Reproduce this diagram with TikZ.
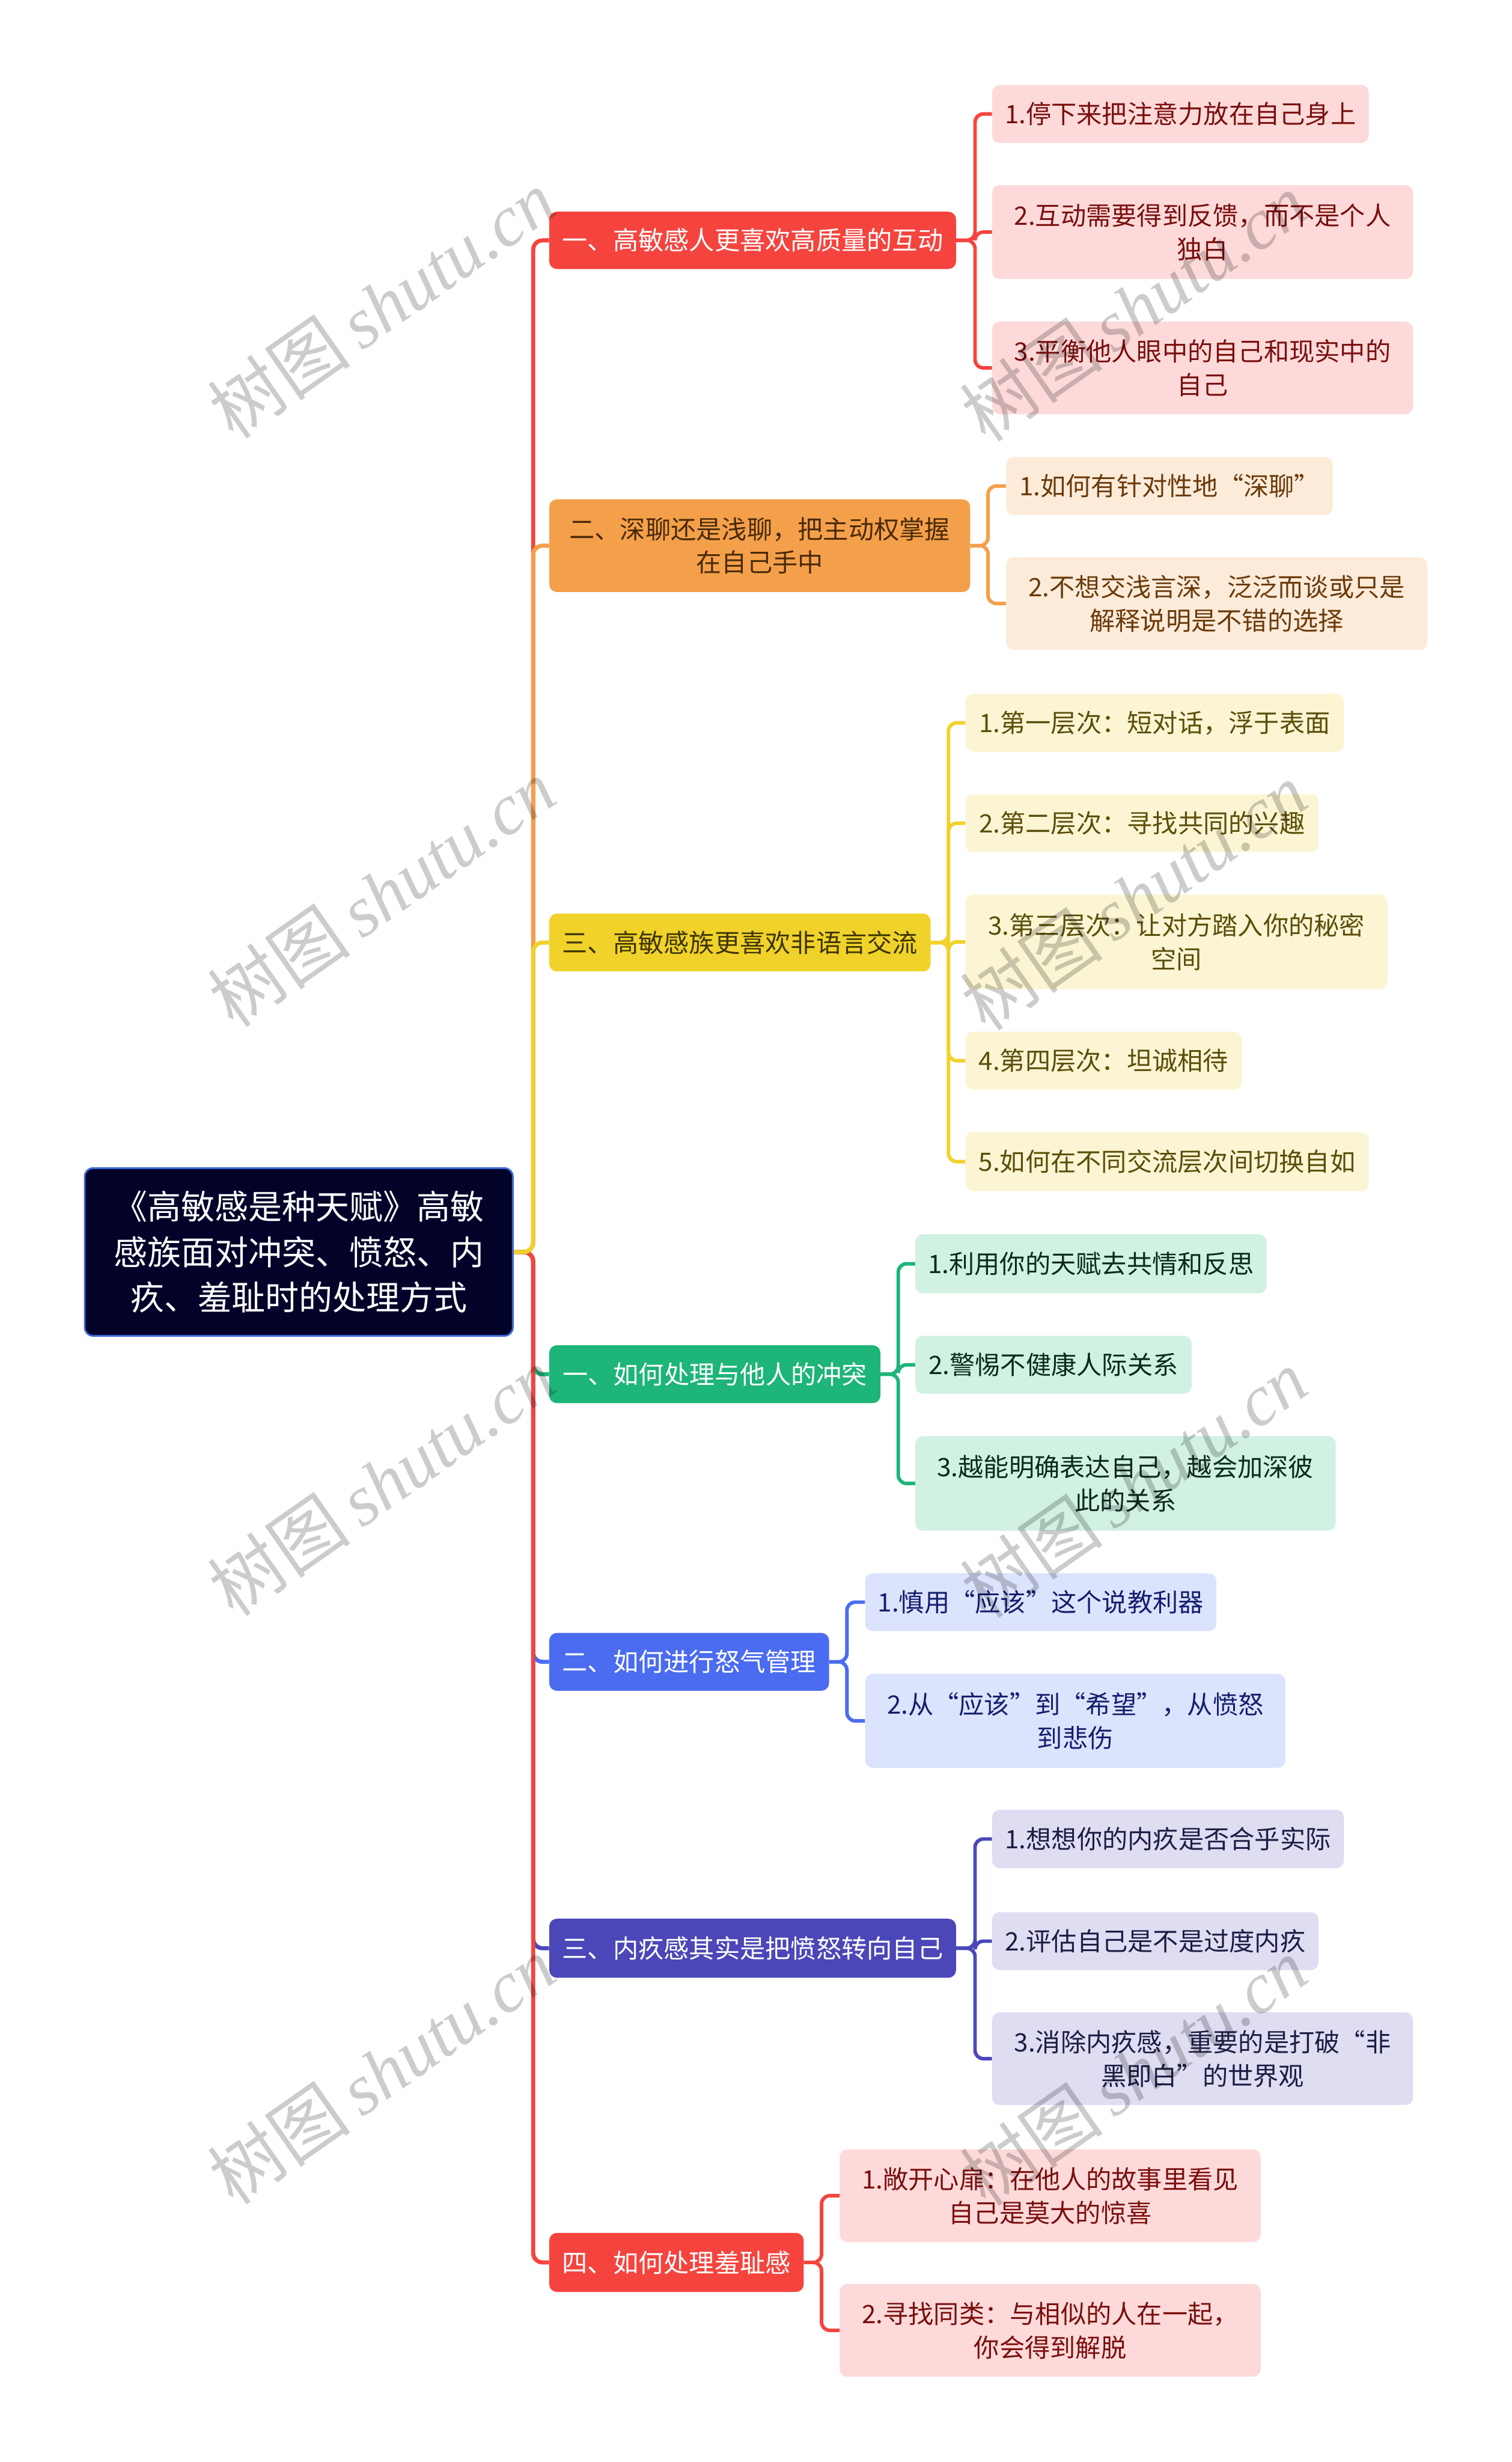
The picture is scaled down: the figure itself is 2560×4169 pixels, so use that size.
\documentclass[tikz,border=0pt]{standalone}
\usepackage{fontspec}
\setmainfont{Noto Sans CJK SC}
\newfontfamily\wmlatin{Liberation Serif}
\pgfdeclarelayer{bg}
\pgfsetlayers{bg,main}
\definecolor{rootfill}{HTML}{03032A}
\definecolor{rootline}{HTML}{3C6ADA}
\definecolor{cred}{HTML}{F5443E}
\definecolor{corange}{HTML}{F4A04B}
\definecolor{cyellow}{HTML}{F0D22B}
\definecolor{cgreen}{HTML}{1DB578}
\definecolor{cblue}{HTML}{4B6CF0}
\definecolor{cindigo}{HTML}{4B47B9}
\definecolor{fpink}{HTML}{FDDAD9}
\definecolor{fpeach}{HTML}{FDEBDA}
\definecolor{fyellow}{HTML}{FBF5D3}
\definecolor{fmint}{HTML}{D1F1E3}
\definecolor{fblue}{HTML}{DCE3FC}
\definecolor{flav}{HTML}{DEDDF2}
\definecolor{tred}{HTML}{7A0E0E}
\definecolor{tbrown}{HTML}{6A3A0A}
\definecolor{tolive}{HTML}{5B4E0A}
\definecolor{tgreen}{HTML}{0B2A1E}
\definecolor{tnavy}{HTML}{141E6E}
\definecolor{tind}{HTML}{1E1C44}
\definecolor{tbrbrown}{HTML}{4A2A08}
\definecolor{tbrolive}{HTML}{3D3400}
\tikzset{
  conn/.style={line width=7pt, rounded corners=16pt},
  subconn/.style={line width=6pt, rounded corners=14pt},
  rootbox/.style={draw=rootline, line width=3pt, fill=rootfill, text=white, rounded corners=14pt, inner sep=0pt, align=center, font=\fontsize{57}{77}\selectfont},
  brbox/.style={rounded corners=13pt, inner sep=0pt, align=center, anchor=west, font=\fontsize{43}{56}\selectfont},
  leafbox/.style={rounded corners=13pt, inner sep=0pt, align=center, anchor=west, font=\fontsize{43}{57}\selectfont},
  wmark/.style={text=black, opacity=0.2, rotate=35, inner sep=0pt, font=\fontsize{122}{122}\selectfont}
}
\begin{document}
\begin{tikzpicture}[x=1pt, y=-1pt]
\useasboundingbox (0,0) rectangle (2560,4169);

% root
\node[rootbox, minimum width=725, minimum height=284] (root) at (506,2120) {《高敏感是种天赋》高敏\\感族面对冲突、愤怒、内\\疚、羞耻时的处理方式};

% branches
\node[brbox, fill=cred, text=white, minimum width=689, minimum height=97] (b1) at (930,407) {一、高敏感人更喜欢高质量的互动};
\node[brbox, fill=corange, text=tbrbrown, minimum width=713, minimum height=157] (b2) at (930,924) {二、深聊还是浅聊，把主动权掌握\\在自己手中};
\node[brbox, fill=cyellow, text=tbrolive, minimum width=646, minimum height=98] (b3) at (930,1596) {三、高敏感族更喜欢非语言交流};
\node[brbox, fill=cgreen, text=white, minimum width=561, minimum height=98] (b4) at (930,2327) {一、如何处理与他人的冲突};
\node[brbox, fill=cblue, text=white, minimum width=474, minimum height=98] (b5) at (930,2814) {二、如何进行怒气管理};
\node[brbox, fill=cindigo, text=white, minimum width=689, minimum height=100] (b6) at (930,3299) {三、内疚感其实是把愤怒转向自己};
\node[brbox, fill=cred, text=white, minimum width=431, minimum height=100] (b7) at (930,3831) {四、如何处理羞耻感};

% leaves of b1
\node[leafbox, fill=fpink, text=tred, minimum width=638, minimum height=98] (l1a) at (1680,193) {1.停下来把注意力放在自己身上};
\node[leafbox, fill=fpink, text=tred, minimum width=713, minimum height=159] (l1b) at (1680,393) {2.互动需要得到反馈，而不是个人\\独白};
\node[leafbox, fill=fpink, text=tred, minimum width=713, minimum height=157] (l1c) at (1680,623) {3.平衡他人眼中的自己和现实中的\\自己};
% leaves of b2
\node[leafbox, fill=fpeach, text=tbrown, minimum width=553, minimum height=98] (l2a) at (1704,823) {1.如何有针对性地“深聊”};
\node[leafbox, fill=fpeach, text=tbrown, minimum width=713, minimum height=157] (l2b) at (1704,1022) {2.不想交浅言深，泛泛而谈或只是\\解释说明是不错的选择};
% leaves of b3
\node[leafbox, fill=fyellow, text=tolive, minimum width=641, minimum height=98] (l3a) at (1635,1224) {1.第一层次：短对话，浮于表面};
\node[leafbox, fill=fyellow, text=tolive, minimum width=598, minimum height=98] (l3b) at (1635,1394) {2.第二层次：寻找共同的兴趣};
\node[leafbox, fill=fyellow, text=tolive, minimum width=715, minimum height=160] (l3c) at (1635,1595) {3.第三层次：让对方踏入你的秘密\\空间};
\node[leafbox, fill=fyellow, text=tolive, minimum width=468, minimum height=98] (l3d) at (1635,1796) {4.第四层次：坦诚相待};
\node[leafbox, fill=fyellow, text=tolive, minimum width=683, minimum height=100] (l3e) at (1635,1967) {5.如何在不同交流层次间切换自如};
% leaves of b4
\node[leafbox, fill=fmint, text=tgreen, minimum width=595, minimum height=100] (l4a) at (1550,2140) {1.利用你的天赋去共情和反思};
\node[leafbox, fill=fmint, text=tgreen, minimum width=468, minimum height=98] (l4b) at (1550,2311) {2.警惕不健康人际关系};
\node[leafbox, fill=fmint, text=tgreen, minimum width=712, minimum height=160] (l4c) at (1550,2512) {3.越能明确表达自己，越会加深彼\\此的关系};
% leaves of b5
\node[leafbox, fill=fblue, text=tnavy, minimum width=595, minimum height=98] (l5a) at (1465,2713) {1.慎用“应该”这个说教利器};
\node[leafbox, fill=fblue, text=tnavy, minimum width=712, minimum height=159] (l5b) at (1465,2914) {2.从“应该”到“希望”，从愤怒\\到悲伤};
% leaves of b6
\node[leafbox, fill=flav, text=tind, minimum width=596, minimum height=99] (l6a) at (1680,3114) {1.想想你的内疚是否合乎实际};
\node[leafbox, fill=flav, text=tind, minimum width=553, minimum height=98] (l6b) at (1680,3287) {2.评估自己是不是过度内疚};
\node[leafbox, fill=flav, text=tind, minimum width=713, minimum height=157] (l6c) at (1680,3486) {3.消除内疚感，重要的是打破“非\\黑即白”的世界观};
% leaves of b7
\node[leafbox, fill=fpink, text=tred, minimum width=713, minimum height=157] (l7a) at (1422,3718) {1.敞开心扉：在他人的故事里看见\\自己是莫大的惊喜};
\node[leafbox, fill=fpink, text=tred, minimum width=713, minimum height=157] (l7b) at (1422,3946) {2.寻找同类：与相似的人在一起，\\你会得到解脱};

\begin{pgfonlayer}{bg}
\fill[white] (0,0) rectangle (2560,4169);
% trunk connectors (draw order gives the visible colours)
\draw[conn, cindigo] (root.east) -- ++(33,0) |- (b6.west);
\draw[conn, cblue] (root.east) -- ++(33,0) |- (b5.west);
\draw[conn, cgreen] (root.east) -- ++(33,0) |- (b4.west);
\draw[conn, cred] (root.east) -- ++(33,0) |- (b7.west);
\draw[conn, cred] (root.east) -- ++(33,0) |- (b1.west);
\draw[conn, corange] (root.east) -- ++(33,0) |- (b2.west);
\draw[conn, cyellow] (root.east) -- ++(33,0) |- (b3.west);
% leaf connectors
\foreach \l in {l1a,l1b,l1c} \draw[subconn, cred] (b1.east) -- ++(32,0) |- (\l.west);
\foreach \l in {l2a,l2b} \draw[subconn, corange] (b2.east) -- ++(30,0) |- (\l.west);
\foreach \l in {l3a,l3b,l3c,l3d,l3e} \draw[subconn, cyellow] (b3.east) -- ++(30,0) |- (\l.west);
\foreach \l in {l4a,l4b,l4c} \draw[subconn, cgreen] (b4.east) -- ++(30,0) |- (\l.west);
\foreach \l in {l5a,l5b} \draw[subconn, cblue] (b5.east) -- ++(30,0) |- (\l.west);
\foreach \l in {l6a,l6b,l6c} \draw[subconn, cindigo] (b6.east) -- ++(32,0) |- (\l.west);
\foreach \l in {l7a,l7b} \draw[subconn, cred] (b7.east) -- ++(30,0) |- (\l.west);
\end{pgfonlayer}

% watermarks
\foreach \wx/\wy [count=\i] in {646/515, 1920/520, 646/1512, 1920/1518, 646/2509, 1920/2512, 646/3506, 1920/3508}
  \node[wmark] (wm\i) at (\wx,\wy) {树图\,{\wmlatin\itshape shutu.cn}};
\end{tikzpicture}
\end{document}
